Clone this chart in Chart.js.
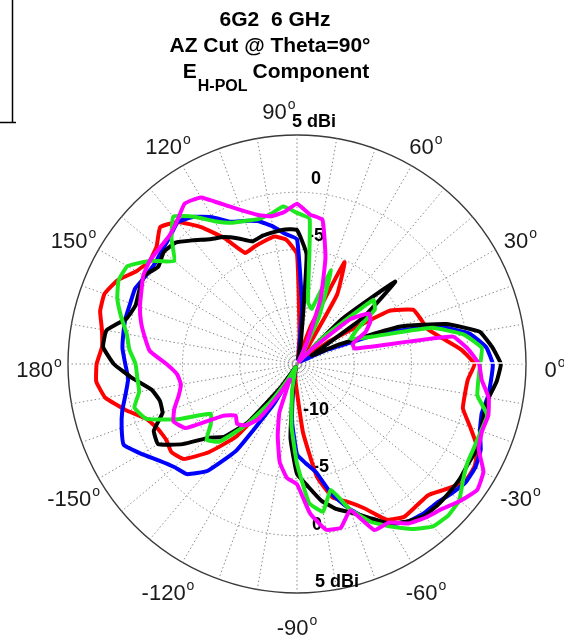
<!DOCTYPE html>
<html>
<head>
<meta charset="utf-8">
<script src="https://cdn.jsdelivr.net/npm/chart.js@4.4.0/dist/chart.umd.min.js"></script>
<style>
  html, body { margin: 0; padding: 0; background: #fff; }
</style>
</head>
<body>
<canvas id="diagrama" width="564" height="642"></canvas>
<script>
// Ángulos de azimut (grados, sentido antihorario desde 0°), un valor cada 5°
const angulos = [0, 5, 10, 15, 20, 25, 30, 35, 40, 45, 50, 55, 60, 65, 70, 75, 80, 85,
  90, 95, 100, 105, 110, 115, 120, 125, 130, 135, 140, 145, 150, 155, 160, 165, 170, 175,
  180, 185, 190, 195, 200, 205, 210, 215, 220, 225, 230, 235, 240, 245, 250, 255, 260, 265,
  270, 275, 280, 285, 290, 295, 300, 305, 310, 315, 320, 325, 330, 335, 340, 345, 350, 355];

const serieRoja = [0.5, -0.6, -2.1, -3.2, -3.5, -3.8, -5.7, -11.5, -14.5, -14.7, -14.7, -14.0, -8.0, -5.2, -11.5, -14.5, -14.5, -12.5,
  -5.4, -4.1, -3.7, -3.9, -4.1, -4.3, -2.3, -0.4, 1.2, 1.9, 1.0, 0.7, 1.2, 2.3, 2.9, 2.8, 2.3, 2.1,
  2.5, 2.6, 2.0, 0.5, -1.0, -1.6, -1.8, -1.6, -2.1, -4.1, -6.7, -11.5, -14.0, -14.6, -14.7, -14.6, -14.2, -13.5,
  -12.5, -9.0, -5.0, -2.9, -2.2, -1.1, 0.7, 1.3, 1.2, 1.2, 2.0, 2.9, 2.9, 2.4, 1.1, 0.0, -0.1, 0.0];
const serieNegra = [2.8, 2.1, 1.2, -1.5, -5.5, -11.0, -13.5, -8.0, -3.8, -9.5, -14.5, -14.6, -14.5, -14.6, -14.5, -14.5, -13.0, -5.4,
  -3.3, -3.2, -3.3, -3.4, -3.6, -2.9, -2.2, -1.7, -0.9, 0.0, 0.2, -0.2, 0.4, 0.2, 0.0, 0.4, 1.9, 2.0,
  1.0, -0.6, -2.1, -2.6, -2.5, -1.2, -1.0, -2.8, -5.0, -6.0, -8.4, -12.5, -14.5, -14.7, -14.7, -14.2, -13.0, -8.5,
  -5.4, -4.3, -2.9, -1.9, -1.2, -0.2, 1.1, 1.8, 2.3, 2.4, 2.4, 2.4, 2.3, 2.4, 2.1, 1.9, 2.0, 2.5];
const serieAzul = [2.1, 1.6, 0.3, -2.3, -7.1, -12.0, -14.3, -14.6, -14.6, -14.6, -14.6, -14.6, -14.6, -14.6, -14.6, -14.6, -14.0, -10.0,
  -4.1, -3.6, -2.8, -2.1, -1.7, -1.3, -0.2, 0.7, 1.2, 0.7, 0.4, 0.2, 0.3, 0.6, 0.5, 0.5, 0.4, 0.3,
  0.0, -0.2, 0.2, 0.8, 1.3, 1.7, 0.7, -0.3, -1.0, -1.4, -2.8, -5.8, -11.0, -14.5, -14.7, -14.5, -13.0, -10.0,
  -7.1, -6.3, -5.4, -3.2, -1.5, 0.0, 1.2, 1.8, 2.1, 2.2, 2.6, 3.0, 3.0, 2.7, 2.0, 1.7, 1.9, 2.0];
const serieVerde = [1.0, 1.2, -0.2, -2.8, -8.0, -9.8, -8.9, -6.7, -6.3, -11.5, -14.6, -14.7, -14.5, -10.5, -6.3, -10.0, -9.5, -2.3,
  -1.8, -1.2, -1.7, -1.9, -1.7, -1.4, -0.6, 0.7, 1.8, 0.5, -1.0, 0.7, 2.1, 2.2, 1.7, 0.9, 0.1, -0.3,
  -0.9, -1.0, -1.0, -0.3, -1.0, -3.6, -6.3, -5.8, -4.7, -5.4, -8.0, -11.0, -13.5, -14.6, -14.7, -14.2, -12.5, -9.5,
  -6.3, -2.8, -1.9, -3.6, -1.5, 0.2, 1.4, 2.6, 3.5, 3.7, 3.5, 2.7, 2.2, 2.1, 2.1, 2.2, 1.0, 0.9];
const serieMagenta = [0.9, 0.0, -1.2, -9.8, -9.8, -8.4, -7.6, -7.3, -8.9, -13.0, -14.6, -14.7, -14.5, -13.0, -9.0, -5.4, -2.2, -1.9,
  -1.0, -1.7, -1.9, -1.5, -0.7, 0.4, 1.8, 2.1, 1.3, 0.8, 0.7, 0.7, 0.5, 0.0, -0.4, -0.9, -1.5, -2.1,
  -3.6, -4.5, -4.7, -4.3, -3.6, -3.1, -3.8, -7.1, -8.0, -7.6, -8.0, -9.1, -12.0, -13.5, -10.5, -8.5, -6.3, -5.0,
  -4.5, -1.9, -0.3, -0.2, -1.4, 1.0, 1.0, 2.0, 2.5, 2.9, 3.6, 4.2, 3.8, 2.5, 2.2, 2.3, 2.0, 1.2];

// Etiquetas de los ejes
const etiquetasAngulo = [0, 30, 60, 90, 120, 150, 180, -150, -120, -90, -60, -30];
const valoresRadioArriba = [5, 0, -5];
const textosRadioArriba = ["5 dBi", "0", "-5"];
const valoresRadioAbajo = [-10, -5, 0, 5];
const textosRadioAbajo = ["-10", "-5", "0", "5 dBi"];

const FUENTE = "'Liberation Sans', Arial, sans-serif";

/**
 * El radar de Chart.js avanza en sentido horario desde startAngle,
 * las series van en sentido antihorario: se invierte el orden.
 */
function ordenarParaRadar(serie) {
  return serie.map((_, i) => serie[(serie.length - i) % serie.length]);
}

// índice del radar que corresponde a un ángulo en grados
function indiceDeAngulo(grados) {
  const a = ((grados % 360) + 360) % 360;
  return ((360 - a) % 360) / 5;
}

const decoracion = {
  id: "decoracion",
  beforeDatasetsDraw(chart) {
    const ctx = chart.ctx;
    const r = chart.scales.r;
    ctx.save();
    ctx.fillStyle = "#000";
    ctx.font = "bold 18px " + FUENTE;
    ctx.textAlign = "left";
    ctx.textBaseline = "middle";
    const dxArriba = [-5, 14, 11];
    valoresRadioArriba.forEach((v, k) => {
      const d = r.getDistanceFromCenterForValue(v);
      ctx.fillText(textosRadioArriba[k], r.xCenter + dxArriba[k], r.yCenter - d - 13);
    });
    const dxAbajo = [6, 16, 15, 18];
    valoresRadioAbajo.forEach((v, k) => {
      const d = r.getDistanceFromCenterForValue(v);
      ctx.fillText(textosRadioAbajo[k], r.xCenter + dxAbajo[k], r.yCenter + d - 11);
    });
    ctx.restore();
  },
  afterDatasetsDraw(chart) {
    // línea blanca sobre el eje de 0°
    const ctx = chart.ctx;
    const r = chart.scales.r;
    const p1 = r.getPointPosition(indiceDeAngulo(0), r.getDistanceFromCenterForValue(0) + 1);
    const p2 = r.getPointPosition(indiceDeAngulo(0), r.getDistanceFromCenterForValue(5) - 3);
    ctx.save();
    ctx.strokeStyle = "#fff";
    ctx.lineWidth = 1.5;
    ctx.beginPath();
    ctx.moveTo(p1.x, p1.y - 1);
    ctx.lineTo(p2.x, p2.y - 1);
    ctx.stroke();
    ctx.restore();
  },
  afterDraw(chart) {
    const ctx = chart.ctx;
    const r = chart.scales.r;
    ctx.save();

    // 1) Etiquetas de ángulo con la "o" volada al estilo MATLAB
    ctx.fillStyle = "#1a1a1a";
    ctx.textAlign = "left";
    ctx.textBaseline = "alphabetic";
    etiquetasAngulo.forEach(a => {
      const p = r.getPointPosition(indiceDeAngulo(a), 258);
      const x = p.x + (a === 90 ? -18 : 0);
      const y = p.y + 5;
      const num = String(a);
      ctx.font = "22px " + FUENTE;
      const wNum = ctx.measureText(num).width;
      ctx.font = "14px " + FUENTE;
      const wSup = ctx.measureText("o").width;
      const x0 = x - (wNum + 1 + wSup) / 2;
      ctx.font = "22px " + FUENTE;
      ctx.fillText(num, x0, y + 8);
      ctx.font = "14px " + FUENTE;
      ctx.fillText("o", x0 + wNum + 1, y - 2);
    });

    // 2) Título
    ctx.fillStyle = "#000";
    ctx.textAlign = "center";
    ctx.font = "bold 21px " + FUENTE;
    ctx.fillText("6G2  6 GHz", 275, 26);
    ctx.fillText("AZ Cut @ Theta=90°", 270, 52);
    ctx.textAlign = "left";
    const wE = ctx.measureText("E").width;
    const wComp = ctx.measureText("Component").width;
    ctx.font = "bold 16px " + FUENTE;
    const wSub = ctx.measureText("H-POL").width;
    const total = wE + 1 + wSub + 5 + wComp;
    const x0 = 276 - total / 2;
    ctx.font = "bold 21px " + FUENTE;
    ctx.fillText("E", x0, 78);
    ctx.fillText("Component", x0 + wE + 1 + wSub + 5, 78);
    ctx.font = "bold 16px " + FUENTE;
    ctx.fillText("H-POL", x0 + wE + 1, 91);

    // 3) Resto del marco arriba a la izquierda
    ctx.strokeStyle = "#000";
    ctx.lineWidth = 1.5;
    ctx.beginPath();
    ctx.moveTo(12.5, 0);
    ctx.lineTo(12.5, 122.5);
    ctx.moveTo(0, 122.5);
    ctx.lineTo(16, 122.5);
    ctx.stroke();
    ctx.restore();
  }
};

const etiquetasRadar = ordenarParaRadar(angulos);

const estiloLinea = { fill: false, borderWidth: 4, pointRadius: 0, pointHoverRadius: 0, tension: 0.12 };

// el primer dataset queda dibujado encima
const datasets = [
  { label: "magenta", data: ordenarParaRadar(serieMagenta), borderColor: "#ff00ff" },
  { label: "verde", data: ordenarParaRadar(serieVerde), borderColor: "#1ee81e" },
  { label: "negro", data: ordenarParaRadar(serieNegra), borderColor: "#000000" },
  { label: "azul", data: ordenarParaRadar(serieAzul), borderColor: "#0000ff" },
  { label: "rojo", data: ordenarParaRadar(serieRoja), borderColor: "#ff0000" }
].map(d => Object.assign({}, estiloLinea, d));

const ctx = document.getElementById("diagrama").getContext("2d");
new Chart(ctx, {
  type: "radar",
  data: { labels: etiquetasRadar, datasets: datasets },
  options: {
    responsive: false,
    animation: false,
    devicePixelRatio: 1,
    layout: { padding: { left: 68, right: 38, top: 135, bottom: 49 } },
    plugins: {
      legend: { display: false },
      title: { display: false },
      tooltip: { enabled: false }
    },
    scales: {
      r: {
        min: -15,
        max: 5,
        startAngle: 90,
        ticks: { display: false, stepSize: 5 },
        pointLabels: { display: false },
        grid: {
          circular: true,
          color: c => (c.tick && c.tick.value === 5 ? "#3a3a3a" : "#8a8a8a"),
          lineWidth: c => (c.tick && c.tick.value === 5 ? 1.4 : 1)
        },
        border: {
          dash: c => (c.tick && c.tick.value === 5 ? [] : [1.5, 2.5])
        },
        angleLines: {
          color: "#8a8a8a",
          lineWidth: c => (c.index % 2 === 0 ? 1 : 0),
          borderDash: [1.5, 2.5]
        }
      }
    }
  },
  plugins: [decoracion]
});
</script>
</body>
</html>
